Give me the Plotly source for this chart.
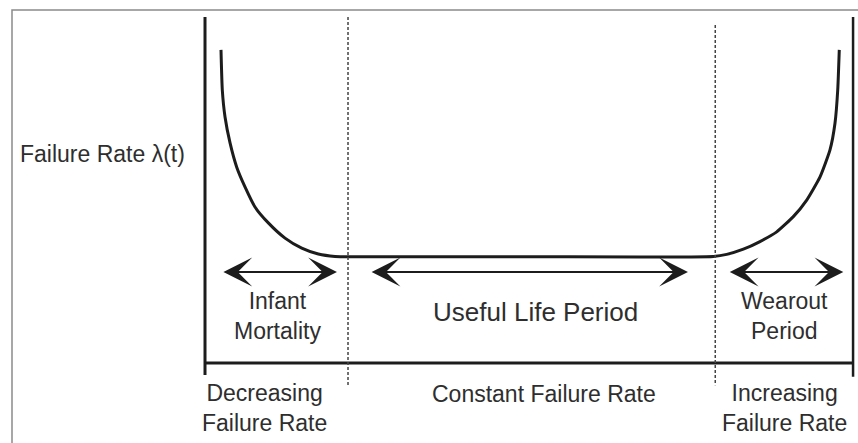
import plotly.graph_objects as go

# ---- data (t: time in arbitrary units, lam: failure rate in arbitrary units) ----
curve_t = [2.46, 2.66, 3.08, 3.85, 4.88, 6.15, 7.69, 9.74, 12.31, 14.88, 17.43, 20.0, 22.6,
           50.0,
           78.2, 80.26, 82.82, 85.38, 87.95, 90.51, 92.57, 94.62, 96.15, 96.92, 97.34, 97.58]
curve_lam = [9.05, 7.89, 7.11, 6.36, 5.66, 5.09, 4.51, 4.05, 3.61, 3.32, 3.15, 3.08, 3.07,
             3.07,
             3.08, 3.14, 3.29, 3.51, 3.79, 4.23, 4.71, 5.38, 6.16, 6.93, 7.89, 9.05]

phase_bounds = [22.0, 78.5]
axis_end = 99.7
axis_top = 10.0

arrow_level = 2.63
arrow_spans = [(2.6, 20.3), (25.4, 74.3), (80.5, 98.2)]

period_labels = ["Infant<br>Mortality", "Useful Life Period", "Wearout<br>Period"]
period_x = [11.2, 50.8, 89.2]
period_y = [1.37, 1.47, 1.37]
period_size = [23, 26, 23]

rate_labels = ["Decreasing<br>Failure Rate", "Constant Failure Rate", "Increasing<br>Failure Rate"]
rate_x = [9.2, 52.1, 89.1]
rate_y = [-1.30, -0.90, -1.30]

y_title = "Failure Rate λ(t)"
y_title_pos = (-15.8, 6.04)

FONT = "Liberation Sans, Arial, Helvetica, sans-serif"
INK = "#1c1c1c"
TXT = "#2e2e2e"

fig = go.Figure()

fig.add_trace(go.Scatter(x=curve_t, y=curve_lam, mode="lines",
                         line=dict(color=INK, width=3, shape="spline", smoothing=0.5),
                         hoverinfo="skip", showlegend=False))

# axes frame
fig.add_shape(type="line", x0=0, x1=0, y0=axis_top, y1=-0.35, line=dict(color=INK, width=3))
fig.add_shape(type="line", x0=0, x1=axis_end, y0=0, y1=0, line=dict(color=INK, width=3))
fig.add_shape(type="line", x0=axis_end, x1=axis_end, y0=axis_top, y1=-0.4, line=dict(color=INK, width=2.5))

# phase boundaries
for i, b in enumerate(phase_bounds):
    fig.add_shape(type="line", x0=b, x1=b, y0=axis_top if i == 0 else 9.77, y1=-0.64,
                  line=dict(color="#444444", width=1.5, dash="3px,2px"))

# arrows
for a, b in arrow_spans:
    fig.add_annotation(x=b, y=arrow_level, ax=a, ay=arrow_level, xref="x", yref="y",
                       axref="x", ayref="y", text="", showarrow=True,
                       arrowhead=3, startarrowhead=3, arrowside="end+start",
                       arrowsize=2.4, startarrowsize=2.4, arrowwidth=2, arrowcolor=INK,
                       standoff=0, startstandoff=0)

for txt, x, y, s in zip(period_labels, period_x, period_y, period_size):
    fig.add_annotation(x=x, y=y, text=txt, showarrow=False, xanchor="center", yanchor="middle",
                       font=dict(family=FONT, size=s, color=TXT))

for txt, x, y in zip(rate_labels, rate_x, rate_y):
    fig.add_annotation(x=x, y=y, text=txt, showarrow=False, xanchor="center", yanchor="middle",
                       font=dict(family=FONT, size=23, color=TXT))

fig.add_annotation(x=y_title_pos[0], y=y_title_pos[1], text=y_title, showarrow=False,
                   xanchor="center", yanchor="middle", font=dict(family=FONT, size=23, color=TXT))

# outer border
fig.add_shape(type="rect", xref="paper", yref="paper", x0=12 / 858, x1=1.05, y0=-0.05, y1=1 - 10 / 443,
              line=dict(color="#8a8a8a", width=1.5), fillcolor="rgba(0,0,0,0)")

fig.update_layout(width=858, height=443, margin=dict(l=0, r=0, t=0, b=0),
                  paper_bgcolor="white", plot_bgcolor="white",
                  xaxis=dict(range=[-31.54, 100.46], visible=False, fixedrange=True),
                  yaxis=dict(range=[-2.312, 10.491], visible=False, fixedrange=True),
                  showlegend=False)

fig.write_html("out.html", config={"displayModeBar": False},
               post_script="document.body.style.margin='0';document.body.style.overflow='hidden';")
